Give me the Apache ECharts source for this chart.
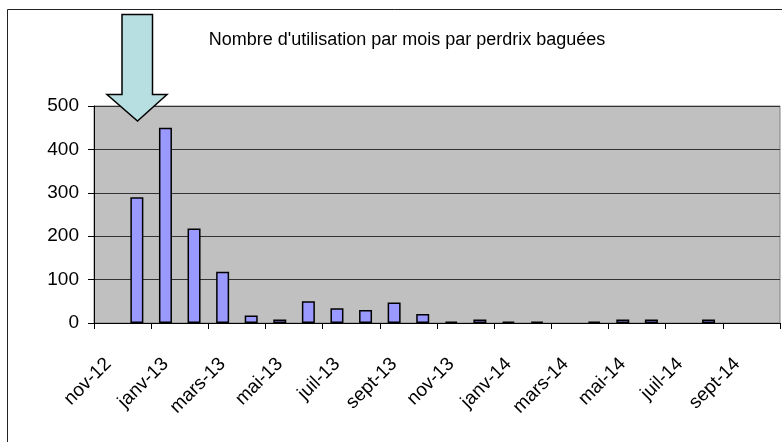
<!DOCTYPE html>
<html>
<head>
<meta charset="utf-8">
<script src="https://cdn.jsdelivr.net/npm/echarts@6/dist/echarts.min.js"></script>
<style>
html,body{margin:0;padding:0;background:#fff;}
#chart{width:782px;height:442px;}
</style>
</head>
<body>
<div id="chart"></div>
<script>
// Months (one bar slot each), Nov 2012 .. Oct 2014
const months = ['nov-12','déc-12','janv-13','févr-13','mars-13','avr-13','mai-13','juin-13','juil-13','août-13','sept-13','oct-13',
                'nov-13','déc-13','janv-14','févr-14','mars-14','avr-14','mai-14','juin-14','juil-14','août-14','sept-14','oct-14'];
// Number of uses per month
const uses = [null,290,450,218,118,17,8,50,34,30,47,21,
              3,8,3,3,null,3,8,8,null,8,null,null];
const yTicks = [0,100,200,300,400,500];
const titleText = "Nombre d'utilisation par mois par perdrix baguées";

const FONT = 'Liberation Sans, Arial, sans-serif';
const chart = echarts.init(document.getElementById('chart'), null, {renderer:'canvas'});
chart.setOption({
  animation:false,
  backgroundColor:'#ffffff',
  title:{
    text:titleText, left:402, top:26, textAlign:'center',
    textStyle:{fontFamily:FONT, fontSize:18, fontWeight:'normal', color:'#000'}
  },
  grid:{left:94, right:2, top:106, bottom:119, show:true, backgroundColor:'#c0c0c0', borderColor:'#808080', borderWidth:1},
  xAxis:{
    type:'category', data:months, boundaryGap:true,
    axisLine:{show:true, lineStyle:{color:'#000', width:1}},
    axisTick:{show:true, interval:1, length:6, lineStyle:{color:'#000'}},
    axisLabel:{interval:1, rotate:45, margin:38, fontFamily:FONT, fontSize:19, color:'#000'}
  },
  yAxis:{
    type:'value', min:yTicks[0], max:yTicks[yTicks.length-1], interval:100,
    axisLine:{show:true, lineStyle:{color:'#000', width:1}},
    axisTick:{show:true, length:6, lineStyle:{color:'#000'}},
    axisLabel:{margin:15, fontFamily:FONT, fontSize:19, color:'#000'},
    splitLine:{show:true, lineStyle:{color:'#333', width:1}}
  },
  series:[{
    type:'bar', data:uses, barWidth:13,
    itemStyle:{color:'#9999ff', borderColor:'#000', borderWidth:1.5}
  }],
  graphic:[
    {type:'polyline', shape:{points:[[7.5,442],[7.5,9.5],[782,9.5]]}, style:{stroke:'#222', lineWidth:1, fill:null}, z:100},
    {type:'polygon', shape:{points:[[122,14.5],[152.5,14.5],[152.5,94.5],[167,94.5],[137.5,121],[107,94.5],[122,94.5]]},
     style:{fill:'#b7dfe1', stroke:'#000', lineWidth:1.5}, z:100}
  ]
});
</script>
</body>
</html>
